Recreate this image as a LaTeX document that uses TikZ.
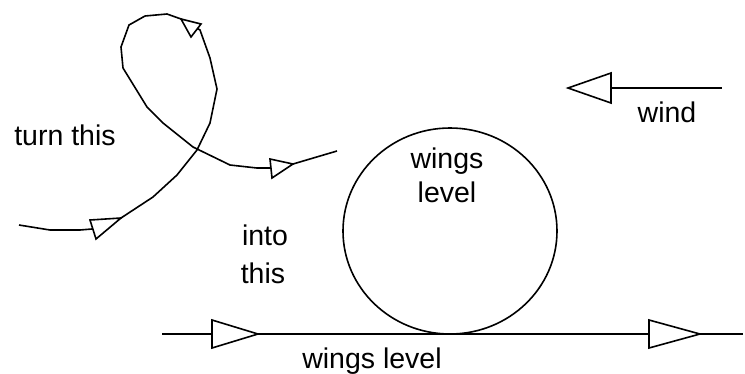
\documentclass[tikz,border=0pt]{standalone}
\usepackage{fontspec}
\setmainfont{Liberation Sans}
\begin{document}
\begin{tikzpicture}[x=1pt,y=-1pt,
  lineSty/.style={line width=1.6pt, line join=round},
  headSty/.style={line width=1.6pt, fill=white, line join=miter},
  lbl/.style={font=\fontsize{28.5}{34}\selectfont, inner sep=0pt, anchor=base}]
\useasboundingbox (0,0) rectangle (745,373);
% loop path
\draw[lineSty] (19,225) -- (50,230) -- (80,230) -- (92,229) -- (121,218)
  -- (153,197) -- (177,175) -- (197,150) -- (210,123) -- (217,89)
  -- (210,58) -- (200,30) -- (181,19) -- (167,14) -- (145,16)
  -- (129,25) -- (121,47) -- (123,68) -- (147,107) -- (163,123)
  -- (193,147) -- (230,165) -- (257,168) -- (270,168) -- (293,164) -- (337,151);
\draw[headSty] (90,220) -- (96,239) -- (121,218) -- cycle;
\draw[headSty] (181,19) -- (201,24) -- (191,37) -- cycle;
\draw[headSty] (270,159) -- (272,178) -- (293,164) -- cycle;
% circle
\draw[lineSty] (450,231) ellipse [x radius=107, y radius=103];
% bottom line
\coordinate (bl) at (162,334);
\coordinate (br) at (743,334);
\draw[lineSty] (bl) -- (br);
\draw[headSty] (212,320) -- (212,348) -- (258,334) -- cycle;
\draw[headSty] (649,320) -- (649,348) -- (700,334) -- cycle;
% wind
\coordinate (wr) at (722,88);
\coordinate (wb) at (611,88);
\draw[lineSty] (wb) -- (wr);
\draw[headSty] (568,88) -- (611,73) -- (611,103) -- cycle;
% labels
\node[lbl] (turn) at (65,145) {turn this};
\node[lbl] (into) at (265,245) {into};
\node[lbl] (this) at (263,283) {this};
\node[lbl] (cw) at (447,168) {wings};
\node[lbl] (cl) at (447,202) {level};
\node[lbl] (wind) at (667,122) {wind};
\node[lbl] (wl) at (372,368) {wings level};
\end{tikzpicture}
\end{document}
